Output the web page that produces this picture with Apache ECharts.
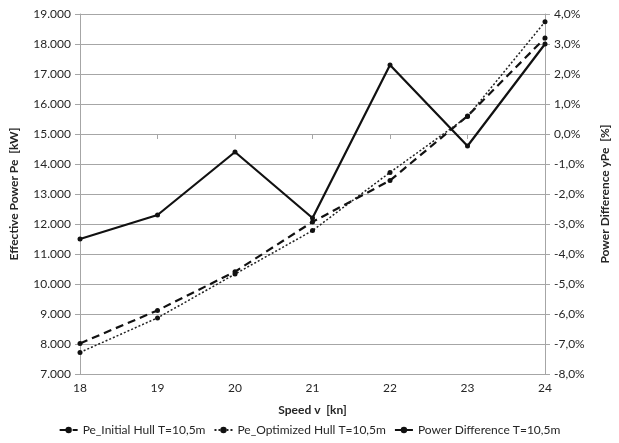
<!DOCTYPE html>
<html>
<head>
<meta charset="utf-8">
<title>Effective Power vs Speed</title>
<script src="https://cdn.jsdelivr.net/npm/echarts@6/dist/echarts.min.js"></script>
<style>
  html, body { margin: 0; padding: 0; background: #fff; }
  #chart { width: 619px; height: 443px; }
</style>
</head>
<body>
<div id="chart"></div>
<script>
// Ship speed [kn]
const speeds = ['18', '19', '20', '21', '22', '23', '24'];

// Effective power Pe [kW]
const peInitial = [8020, 9120, 10410, 12070, 13450, 15600, 18200];
const peOptimized = [7720, 8870, 10330, 11780, 13720, 15580, 18740];

// Power difference [%]
const powerDiff = [-3.5, -2.7, -0.6, -2.8, 2.3, -0.4, 3.0];

// Axis ranges
const leftMin = 7000, leftMax = 19000, leftStep = 1000;
const rightMin = -8, rightMax = 4, rightStep = 1;

const FONT = 'Lato, "Open Sans", sans-serif';
const TXT = '#262626';
const GRID = '#a6a6a6';

const chart = echarts.init(document.getElementById('chart'), null, { renderer: 'canvas' });

chart.setOption({
  backgroundColor: '#ffffff',
  animation: false,
  textStyle: { fontFamily: FONT, color: TXT },
  grid: { left: 76, right: 64, top: 14, bottom: 69, containLabel: false },
  legend: {
    bottom: 2,
    left: 'center',
    itemWidth: 18,
    itemHeight: 8,
    itemGap: 8,
    textStyle: { fontFamily: FONT, fontSize: 12, color: TXT },
    data: ['Pe_Initial Hull T=10,5m', 'Pe_Optimized Hull T=10,5m', 'Power Difference T=10,5m']
  },
  xAxis: {
    type: 'category',
    data: speeds,
    boundaryGap: false,
    name: 'Speed v  [kn]',
    nameLocation: 'middle',
    nameGap: 30,
    nameTextStyle: { fontFamily: FONT, fontSize: 12, fontWeight: 'bold', color: TXT },
    axisLine: { show: true, lineStyle: { color: GRID, width: 1 } },
    axisTick: { show: true, length: 5, lineStyle: { color: GRID } },
    axisLabel: { fontFamily: FONT, fontSize: 12, color: TXT, margin: 8 },
    splitLine: { show: false }
  },
  yAxis: [
    {
      type: 'value',
      min: leftMin, max: leftMax, interval: leftStep,
      name: 'Effective Power Pe  [kW]',
      nameLocation: 'middle',
      nameGap: 60,
      nameRotate: 90,
      nameTextStyle: { fontFamily: FONT, fontSize: 12, fontWeight: 'bold', color: TXT },
      axisLine: { show: true, lineStyle: { color: GRID, width: 1 } },
      axisTick: { show: true, length: 5, lineStyle: { color: GRID } },
      axisLabel: {
        fontFamily: FONT, fontSize: 12, color: TXT, margin: 9,
        formatter: v => (v / 1000).toFixed(3)
      },
      splitLine: { show: true, lineStyle: { color: GRID, width: 1 } }
    },
    {
      type: 'value',
      position: 'right',
      min: rightMin, max: rightMax, interval: rightStep,
      name: 'Power Difference yPe  [%]',
      nameLocation: 'middle',
      nameGap: 54,
      nameRotate: 90,
      nameTextStyle: { fontFamily: FONT, fontSize: 12, fontWeight: 'bold', color: TXT },
      axisLine: { show: true, lineStyle: { color: GRID, width: 1 } },
      axisTick: { show: true, length: 5, lineStyle: { color: GRID } },
      axisLabel: {
        fontFamily: FONT, fontSize: 12, color: TXT, margin: 9,
        formatter: v => v.toFixed(1).replace('.', ',') + '%'
      },
      splitLine: { show: false }
    }
  ],
  series: [
    {
      name: 'Pe_Initial Hull T=10,5m',
      type: 'line',
      yAxisIndex: 0,
      data: peInitial,
      symbol: 'circle',
      symbolSize: 5,
      itemStyle: { color: '#111' },
      lineStyle: { color: '#111', width: 2.2, type: [8, 5] }
    },
    {
      name: 'Pe_Optimized Hull T=10,5m',
      type: 'line',
      yAxisIndex: 0,
      data: peOptimized,
      symbol: 'circle',
      symbolSize: 5,
      itemStyle: { color: '#111' },
      lineStyle: { color: '#222', width: 1.5, type: [2, 2] }
    },
    {
      name: 'Power Difference T=10,5m',
      type: 'line',
      yAxisIndex: 1,
      data: powerDiff,
      symbol: 'circle',
      symbolSize: 5,
      itemStyle: { color: '#111' },
      lineStyle: { color: '#111', width: 2.2, type: 'solid' }
    }
  ]
});
</script>
</body>
</html>
